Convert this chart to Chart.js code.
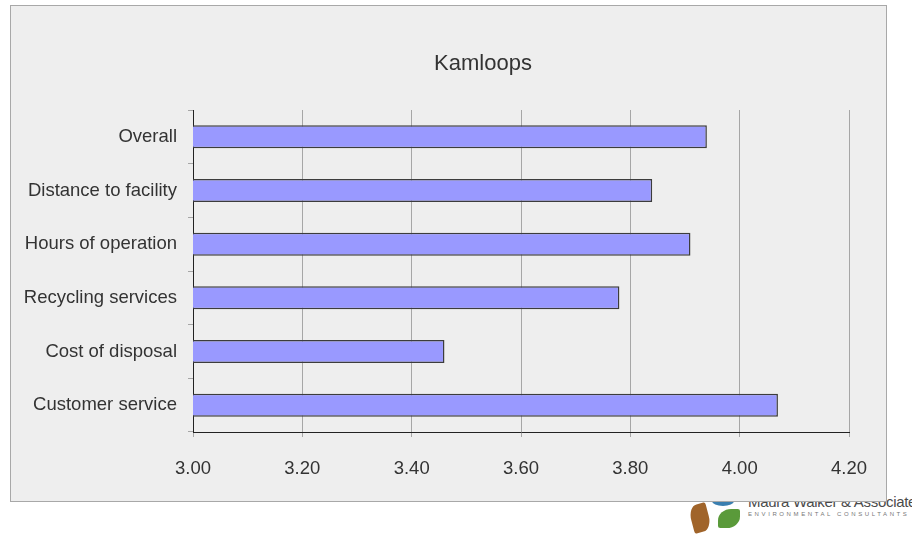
<!DOCTYPE html>
<html>
<head>
<meta charset="utf-8">
<script src="https://cdn.jsdelivr.net/npm/chart.js@4"></script>
<style>
  html, body { margin: 0; padding: 0; background: #ffffff; width: 912px; height: 534px; overflow: hidden; font-family: "Liberation Sans", Arial, sans-serif; }
  #logo { position: absolute; left: 686px; top: 490px; width: 226px; height: 44px; z-index: 1; }
  #logo .txt1 { position: absolute; left: 62px; top: 3px; font-size: 15px; color: #4a4a4a; white-space: nowrap; letter-spacing: -0.3px; }
  #logo .txt2 { position: absolute; left: 62px; top: 21px; font-size: 6px; color: #777; letter-spacing: 2.6px; white-space: nowrap; }
  #logo .leaf1 { position: absolute; left: 5px; top: 14px; width: 18px; height: 28px; border-radius: 50% 10% 50% 10%; background: #a0642a; transform: rotate(-15deg); }
  #logo .leaf2 { position: absolute; left: 32px; top: 19px; width: 22px; height: 19px; border-radius: 60% 10% 60% 10%; background: #5a9a3a; }
  #logo .leaf3 { position: absolute; left: 26px; top: 6px; width: 22px; height: 10px; border-radius: 50%; background: #3a7fb0; }
  #panel { position: absolute; left: 10px; top: 5px; width: 875px; height: 495px; background: #eeeeee; border: 1px solid #a8a8a8; z-index: 2; }
  #wrap { position: absolute; left: 0; top: 0; width: 912px; height: 534px; z-index: 3; }
</style>
</head>
<body>
<div id="logo">
  <div class="leaf1"></div><div class="leaf3"></div><div class="leaf2"></div>
  <div class="txt1">Maura Walker &amp; Associates</div>
  <div class="txt2">ENVIRONMENTAL CONSULTANTS</div>
</div>
<div id="panel"></div>
<div id="wrap"><canvas id="c" width="912" height="534"></canvas></div>
<script>
const TITLE = "Kamloops";
const categories = ["Overall", "Distance to facility", "Hours of operation", "Recycling services", "Cost of disposal", "Customer service"];
const values = [3.94, 3.84, 3.91, 3.78, 3.46, 4.07];
const xTicks = [3.00, 3.20, 3.40, 3.60, 3.80, 4.00, 4.20];

const FONT = '"Liberation Sans", Arial, sans-serif';

const titlePlugin = {
  id: 'customTitle',
  afterDraw(chart) {
    const ctx = chart.ctx;
    ctx.save();
    ctx.font = '22px ' + FONT;
    ctx.fillStyle = '#333333';
    ctx.textAlign = 'center';
    ctx.textBaseline = 'alphabetic';
    ctx.fillText(TITLE, 483, 70);
    ctx.restore();
  }
};

new Chart(document.getElementById('c'), {
  type: 'bar',
  data: {
    labels: categories,
    datasets: [{
      data: values,
      backgroundColor: '#9999ff',
      borderColor: '#3c3c3c',
      borderWidth: 1.5,
      borderSkipped: false,
      categoryPercentage: 1,
      barPercentage: 0.43
    }]
  },
  options: {
    indexAxis: 'y',
    responsive: false,
    animation: false,
    devicePixelRatio: 1,
    layout: { padding: { left: 0, right: 63, top: 110, bottom: 0 } },
    plugins: {
      legend: { display: false },
      title: { display: false },
      tooltip: { enabled: false }
    },
    scales: {
      x: {
        min: xTicks[0],
        max: xTicks[xTicks.length - 1],
        afterBuildTicks(scale) { scale.ticks = xTicks.map(v => ({ value: v })); },
        ticks: {
          callback: v => Number(v).toFixed(2),
          color: '#333333',
          font: { family: FONT, size: 18.5 },
          padding: 21,
          maxRotation: 0
        },
        grid: { color: '#a6a6a6', lineWidth: 1, tickLength: 5, tickColor: '#a6a6a6' },
        border: { color: '#222222', width: 1 },
        afterFit(scale) { scale.height = 102; }
      },
      y: {
        offset: true,
        ticks: {
          color: '#333333',
          font: { family: FONT, size: 18.5 },
          padding: 11
        },
        grid: { drawOnChartArea: false, offset: true, tickLength: 5, tickColor: '#a6a6a6' },
        border: { color: '#222222', width: 1 },
        afterFit(scale) { scale.width = 193; }
      }
    }
  },
  plugins: [titlePlugin]
});
</script>
</body>
</html>
